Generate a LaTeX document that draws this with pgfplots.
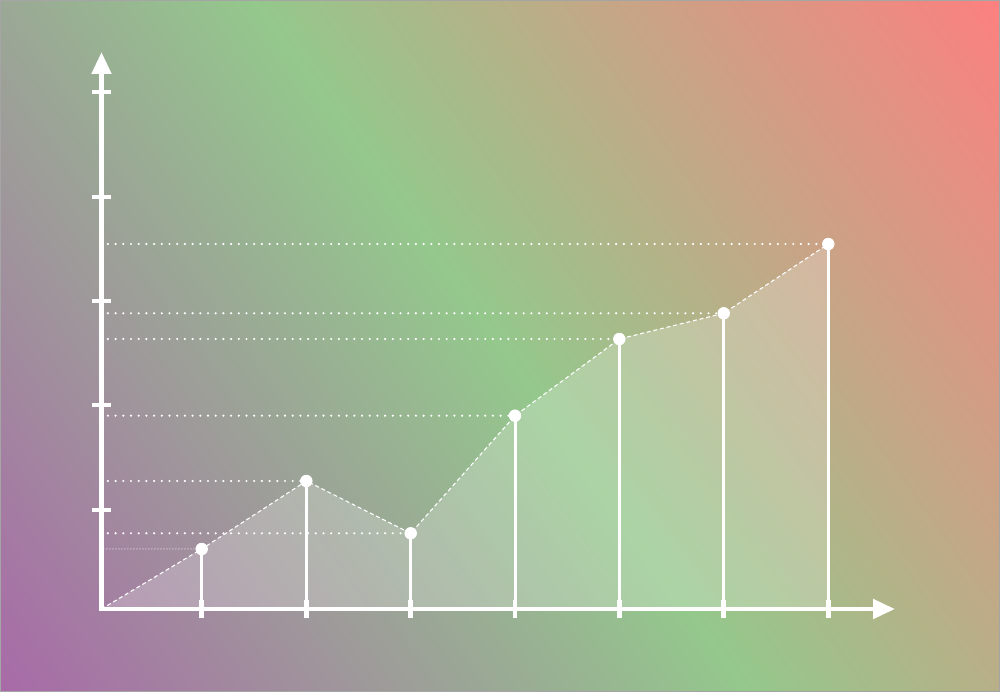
\documentclass[border=0pt]{standalone}
\usepackage{pgfplots}
\pgfplotsset{compat=1.18}
\usetikzlibrary{arrows.meta}

\definecolor{purp}{RGB}{168,106,168}
\definecolor{grn}{RGB}{148,200,140}
\definecolor{salm}{RGB}{252,128,128}
\definecolor{frame}{RGB}{165,165,165}

% gradient: 25bp..75bp is the span that gets stretched over the square path
\pgfdeclarehorizontalshading{bggrad}{100bp}{%
  color(0bp)=(purp); color(25bp)=(purp);
  color(50bp)=(grn);
  color(75bp)=(salm); color(100bp)=(salm)}

\begin{document}
\begin{tikzpicture}
% background (1px = 0.5bp, data origin at tikz origin)
\begin{scope}
  \clip (-50.75bp,-41.5bp) rectangle (449.25bp,304.5bp);
  \shade[shading=bggrad, shading angle=35.5, overlay]
    (199.25bp,131.5bp) ++(-304bp,-304bp) rectangle ++(608bp,608bp);
  \draw[frame, line width=0.6bp] (-50.45bp,-41.2bp) rectangle (448.95bp,304.2bp);
\end{scope}

\begin{axis}[
    scale only axis,
    width=396.75bp, height=278.5bp,
    xmin=0, xmax=793.5,
    ymin=0, ymax=557,
    axis lines=middle,
    axis line style={white, line width=2.4bp, line cap=rect,
      -{Triangle[width=9.5bp,length=11bp]}},
    xtick={100.2,204.8,309.2,413.5,517.8,622.2,726.8},
    ytick={99,204,308,412,517},
    xticklabels={}, yticklabels={},
    tick align=center,
    major tick length=9.2bp,
    major tick style={white, line width=2.3bp},
    clip=false,
]

% shaded area under the line
\addplot[draw=none, fill=white, fill opacity=0.22] coordinates {
    (0,0) (100.2,60) (204.8,128) (309.2,75.7) (413.5,193.3)
    (517.8,270) (622.2,295.7) (726.8,365)
} \closedcycle;

% dotted guides to the y axis
\addplot[xcomb, white, line width=0.6bp, line cap=round,
    dash pattern=on 0pt off 1.5bp, dash phase=0.3bp] coordinates {
    (100.2,60)
};
\addplot[xcomb, white, line width=1.2bp, line cap=round,
    dash pattern=on 0pt off 3.85bp, dash phase=-3.2bp] coordinates {
    (204.8,128) (309.2,75.7) (413.5,193.3)
    (517.8,270) (622.2,295.7) (726.8,365)
};

% dashed connecting line
\addplot[white, line width=0.55bp, dash pattern=on 2bp off 1.4bp] coordinates {
    (0,0) (100.2,60) (204.8,128) (309.2,75.7) (413.5,193.3)
    (517.8,270) (622.2,295.7) (726.8,365)
};

% stems
\addplot[ycomb, white, line width=1.5bp] coordinates {
    (100.2,60) (204.8,128) (309.2,75.7) (413.5,193.3)
    (517.8,270) (622.2,295.7) (726.8,365)
};

% markers
\addplot[only marks, mark=*, mark size=2.9bp, white] coordinates {
    (100.2,60) (204.8,128) (309.2,75.7) (413.5,193.3)
    (517.8,270) (622.2,295.7) (726.8,365)
};

\end{axis}
\end{tikzpicture}
\end{document}
